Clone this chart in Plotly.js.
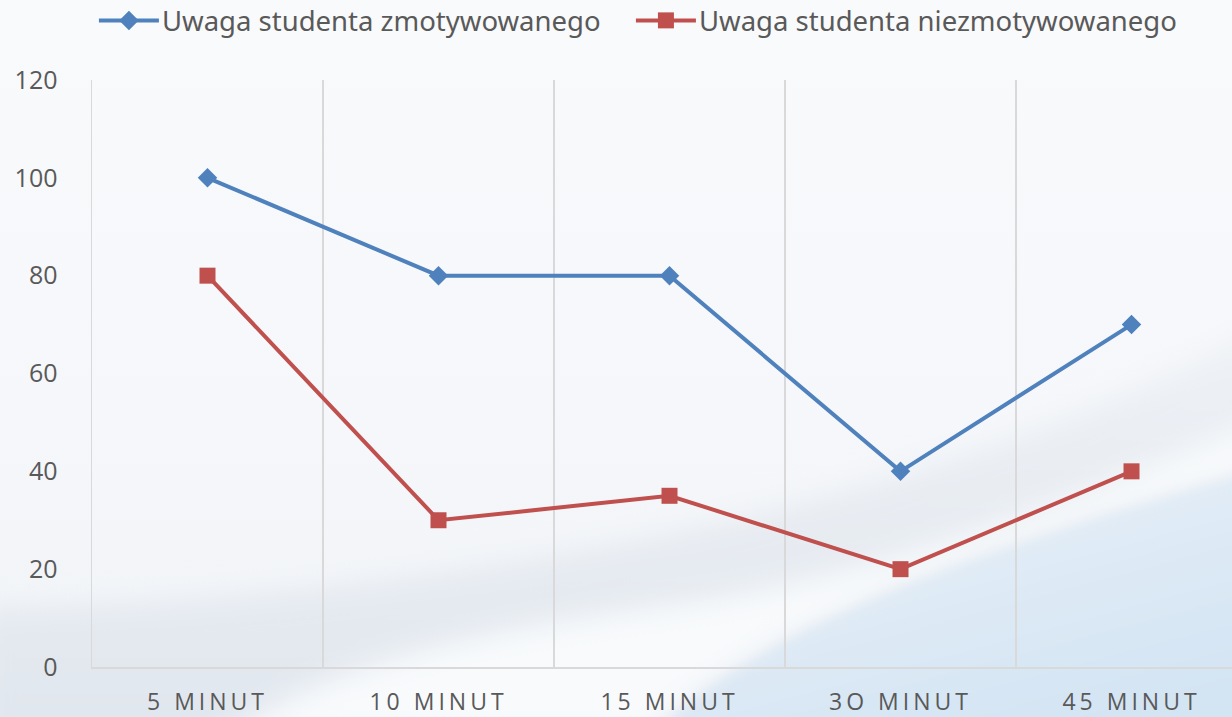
<!DOCTYPE html>
<html>
<head>
<meta charset="utf-8">
<script src="https://cdn.plot.ly/plotly-3.0.1.min.js"></script>
<style>
  html, body { margin:0; padding:0; width:1232px; height:717px; overflow:hidden; background:#f6f8fa; }
  #bg { position:absolute; left:0; top:0; width:1232px; height:717px; z-index:0; }
  #chart { position:absolute; left:0; top:0; width:1232px; height:717px; z-index:1; }
  .xtick text { letter-spacing: 4px; }
</style>
</head>
<body>
<svg id="bg" width="1232" height="717" viewBox="0 0 1232 717">
  <defs>
    <linearGradient id="base" x1="0" y1="0" x2="0" y2="1">
      <stop offset="0" stop-color="#f9fafc"/>
      <stop offset="0.6" stop-color="#f5f7fa"/>
      <stop offset="1" stop-color="#f0f3f7"/>
    </linearGradient>
    <linearGradient id="gray" x1="0" y1="0" x2="0" y2="1">
      <stop offset="0" stop-color="#eef1f5"/>
      <stop offset="1" stop-color="#e0e6ee"/>
    </linearGradient>
    <linearGradient id="blue" x1="0" y1="0" x2="0.6" y2="1">
      <stop offset="0" stop-color="#edf2f8"/>
      <stop offset="1" stop-color="#d3e4f3"/>
    </linearGradient>
    <filter id="blur"><feGaussianBlur stdDeviation="14"/></filter>
    <filter id="blur2"><feGaussianBlur stdDeviation="6"/></filter>
  </defs>
  <rect width="1232" height="717" fill="url(#base)"/>
  <path d="M-20,610 C400,605 900,520 1260,330 L1260,740 L-20,740 Z" fill="url(#gray)" filter="url(#blur)"/>
  <path d="M220,740 C330,660 470,630 700,600 C900,570 1100,490 1260,420 L1260,470 C1000,545 760,625 650,740 Z" fill="#f8fafc" filter="url(#blur)"/>
  <path d="M650,740 C760,625 1000,545 1260,470 L1260,740 Z" fill="url(#blue)" filter="url(#blur2)"/>
</svg>
<div id="chart"></div>
<script>
var categories = ["5 MINUT", "10 MINUT", "15 MINUT", "3O MINUT", "45 MINUT"];
var seriesNames = ["Uwaga studenta zmotywowanego", "Uwaga studenta niezmotywowanego"];
var motivated = [100, 80, 80, 40, 70];
var unmotivated = [80, 30, 35, 20, 40];
var yTicks = [0, 20, 40, 60, 80, 100, 120];

var traces = [
  {
    x: categories, y: motivated, name: seriesNames[0],
    type: "scatter", mode: "lines+markers",
    line: {color: "#4F81BD", width: 4},
    marker: {symbol: "diamond", size: 15, color: "#4F81BD"}
  },
  {
    x: categories, y: unmotivated, name: seriesNames[1],
    type: "scatter", mode: "lines+markers",
    line: {color: "#C0504D", width: 4},
    marker: {symbol: "square", size: 16, color: "#C0504D"}
  }
];

var layout = {
  width: 1232, height: 717,
  paper_bgcolor: "rgba(0,0,0,0)",
  plot_bgcolor: "rgba(0,0,0,0)",
  margin: {l: 92, r: 0, t: 80, b: 50},
  font: {family: "Open Sans, sans-serif", color: "#595959"},
  showlegend: true,
  legend: {
    orientation: "h",
    xref: "container", x: 0.06, xanchor: "left",
    yref: "container", y: 1, yanchor: "top",
    font: {size: 27.5, color: "#595959", family: "Noto Sans, sans-serif"},
    itemwidth: 30,
    entrywidth: 492,
    traceorder: "normal",
    bgcolor: "rgba(0,0,0,0)"
  },
  xaxis: {
    type: "category",
    range: [-0.5, 4.435],
    tickson: "boundaries",
    showgrid: true, gridcolor: "#d9d9d9", gridwidth: 1.5,
    showline: true, linecolor: "#d9d9d9", linewidth: 1.5,
    ticks: "", ticklabelstandoff: 14,
    tickfont: {size: 23, color: "#595959", family: "Open Sans, sans-serif"},
    zeroline: false, fixedrange: true
  },
  yaxis: {
    range: [0, 120],
    tickvals: yTicks,
    showgrid: false, showline: true, linecolor: "#d9d9d9", linewidth: 1.5,
    zeroline: false,
    ticks: "", ticklabelstandoff: 28,
    tickfont: {size: 25, color: "#595959", family: "Open Sans, sans-serif"},
    fixedrange: true
  }
};

Plotly.newPlot("chart", traces, layout, {displayModeBar: false, staticPlot: true}).then(function (gd) {
  // longer legend line samples, as in the reference
  gd.querySelectorAll(".legend .legendlines path").forEach(function (p) {
    p.setAttribute("d", "M5,0h60");
  });
  gd.querySelectorAll(".legend .legendpoints path.scatterpts").forEach(function (p) {
    p.setAttribute("transform", "translate(35,0)");
  });
  gd.querySelectorAll(".legend text.legendtext").forEach(function (t) {
    t.setAttribute("x", "68");
    t.querySelectorAll("tspan[x]").forEach(function (s) { s.setAttribute("x", "68"); });
  });
  gd.querySelectorAll(".legend .scrollbox").forEach(function (s) { s.removeAttribute("clip-path"); });
  var lg = gd.querySelector("g.legend");
  if (lg) {
    var m = /translate\(([-\d.]+)[ ,]+([-\d.]+)\)/.exec(lg.getAttribute("transform") || "");
    if (m) {
      lg.setAttribute("transform", "translate(" + (parseFloat(m[1]) + 20) + "," + (parseFloat(m[2]) - 4) + ")");
    }
  }
});
</script>
</body>
</html>
